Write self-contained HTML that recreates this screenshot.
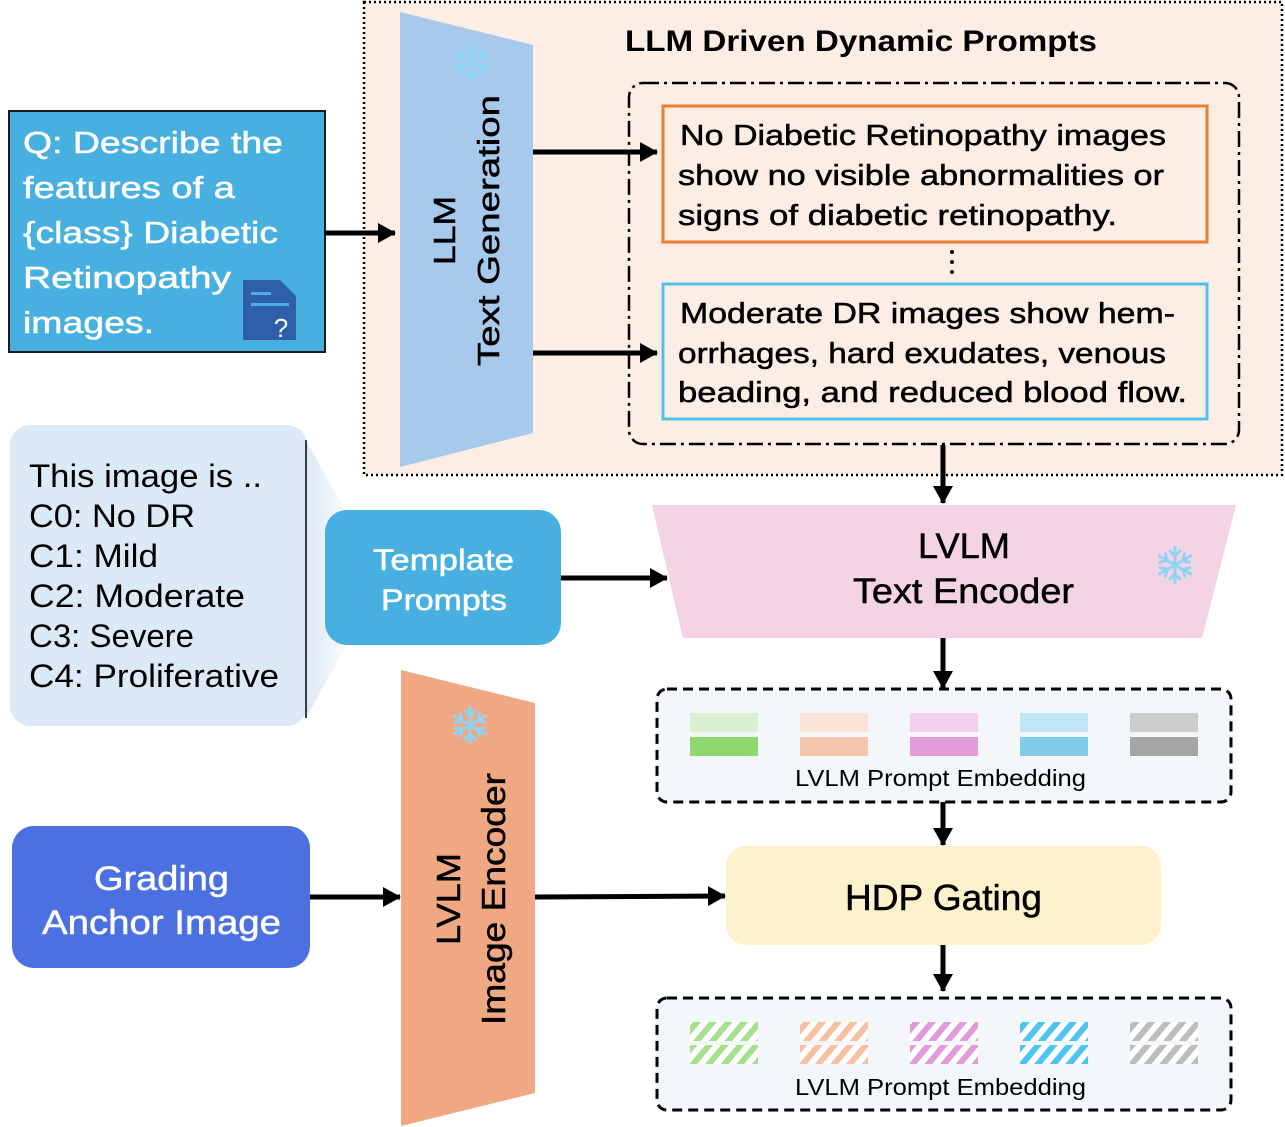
<!DOCTYPE html>
<html><head><meta charset="utf-8"><style>
body{margin:0;background:#fff}
svg{display:block;font-family:"Liberation Sans","DejaVu Sans",sans-serif}
.t{stroke:currentColor;stroke-width:0.5px}
</style></head><body>
<svg width="1285" height="1127" viewBox="0 0 1285 1127" xmlns="http://www.w3.org/2000/svg">
<defs>
<marker id="ah" markerWidth="18" markerHeight="20" refX="17" refY="10" orient="auto" markerUnits="userSpaceOnUse" viewBox="0 0 18 20"><path d="M0,0 L18,10 L0,20 z" fill="#000"/></marker>
<linearGradient id="cg" x1="0" x2="1"><stop offset="0" stop-color="#dce9f6"/><stop offset="1" stop-color="#dce9f6" stop-opacity="0.2"/></linearGradient>
<pattern id="hg" width="12" height="12" patternUnits="userSpaceOnUse" patternTransform="rotate(40)"><rect width="12" height="12" fill="#fff"/><rect width="6" height="12" fill="#a6e08f"/></pattern>
<pattern id="ho" width="12" height="12" patternUnits="userSpaceOnUse" patternTransform="rotate(40)"><rect width="12" height="12" fill="#fff"/><rect width="6" height="12" fill="#f5c0a3"/></pattern>
<pattern id="hp" width="12" height="12" patternUnits="userSpaceOnUse" patternTransform="rotate(40)"><rect width="12" height="12" fill="#fff"/><rect width="6" height="12" fill="#e29ad9"/></pattern>
<pattern id="hb" width="12" height="12" patternUnits="userSpaceOnUse" patternTransform="rotate(40)"><rect width="12" height="12" fill="#fff"/><rect width="6" height="12" fill="#50c4f0"/></pattern>
<pattern id="hx" width="12" height="12" patternUnits="userSpaceOnUse" patternTransform="rotate(40)"><rect width="12" height="12" fill="#fff"/><rect width="6" height="12" fill="#bdbdbd"/></pattern>
<g id="snow" stroke="#8fd3f5" stroke-width="3" stroke-linecap="round" fill="none">
<line x1="0" y1="-18" x2="0" y2="18"/><line x1="-15.6" y1="-9" x2="15.6" y2="9"/><line x1="-15.6" y1="9" x2="15.6" y2="-9"/>
<path d="M-5,-14 L0,-9 L5,-14 M-5,14 L0,9 L5,14"/>
<path d="M-14.6,-2.7 L-7.8,-4.5 L-9.6,-11.3 M14.6,2.7 L7.8,4.5 L9.6,11.3"/>
<path d="M-14.6,2.7 L-7.8,4.5 L-9.6,11.3 M14.6,-2.7 L7.8,-4.5 L9.6,-11.3"/>
</g>
</defs>

<rect x="364" y="2" width="918" height="473" fill="#fdeee5" stroke="#000" stroke-width="2.5" stroke-dasharray="2,3"/>
<text x="625" y="51" font-size="30" font-weight="bold" textLength="472" lengthAdjust="spacingAndGlyphs">LLM Driven Dynamic Prompts</text>
<rect x="629" y="83" width="610" height="361" rx="14" fill="none" stroke="#000" stroke-width="2.5" stroke-dasharray="16,5,3,5"/>
<rect x="663" y="106" width="544" height="136" fill="#fdeee5" stroke="#ed7d31" stroke-width="3"/>
<g font-size="29" fill="#000" class="t" color="#000">
<text x="680" y="145" textLength="486" lengthAdjust="spacingAndGlyphs">No Diabetic Retinopathy images</text>
<text x="678" y="185" textLength="486" lengthAdjust="spacingAndGlyphs">show no visible abnormalities or</text>
<text x="678" y="225" textLength="439" lengthAdjust="spacingAndGlyphs">signs of diabetic retinopathy.</text>
</g>
<g fill="#000"><circle cx="952" cy="252" r="2"/><circle cx="952" cy="262" r="2"/><circle cx="952" cy="272" r="2"/></g>
<rect x="663" y="284" width="544" height="135" fill="#fdeee5" stroke="#4dc3ea" stroke-width="3"/>
<g font-size="29" fill="#000" class="t" color="#000">
<text x="680" y="323" textLength="495" lengthAdjust="spacingAndGlyphs">Moderate DR images show hem-</text>
<text x="678" y="363" textLength="488" lengthAdjust="spacingAndGlyphs">orrhages, hard exudates, venous</text>
<text x="678" y="402" textLength="509" lengthAdjust="spacingAndGlyphs">beading, and reduced blood flow.</text>
</g>

<polygon points="400,12 533,45 533,433 400,467" fill="#a7c9eb"/>
<text transform="translate(455,265) rotate(-90)" font-size="31" class="t" color="#000" textLength="69" lengthAdjust="spacingAndGlyphs">LLM</text>
<text transform="translate(499,366) rotate(-90)" font-size="31" class="t" color="#000" textLength="271" lengthAdjust="spacingAndGlyphs">Text Generation</text>
<use href="#snow" x="472" y="62"/>

<line x1="533" y1="152" x2="657" y2="152" stroke="#000" stroke-width="5" marker-end="url(#ah)"/>
<line x1="533" y1="353" x2="657" y2="353" stroke="#000" stroke-width="5" marker-end="url(#ah)"/>

<rect x="9" y="111" width="316" height="241" fill="#47b0e0" stroke="#1a1a1a" stroke-width="2"/>
<g font-size="31" fill="#fff" class="t" color="#fff">
<text x="23" y="153" textLength="260" lengthAdjust="spacingAndGlyphs">Q: Describe the</text>
<text x="23" y="198" textLength="212" lengthAdjust="spacingAndGlyphs">features of a</text>
<text x="23" y="243" textLength="255" lengthAdjust="spacingAndGlyphs">{class} Diabetic</text>
<text x="23" y="288" textLength="208" lengthAdjust="spacingAndGlyphs">Retinopathy</text>
<text x="23" y="333" textLength="131" lengthAdjust="spacingAndGlyphs">images.</text>
</g>
<path d="M243,280 L280,280 L296,296 L296,340 L243,340 z" fill="#2f5fa8"/>
<rect x="251" y="292" width="20" height="3" fill="#47b0e0"/>
<rect x="251" y="303" width="38" height="3" fill="#47b0e0"/>
<text x="281" y="337" font-size="26" fill="#fff" text-anchor="middle">?</text>
<line x1="325" y1="233" x2="395" y2="233" stroke="#000" stroke-width="5" marker-end="url(#ah)"/>

<polygon points="306,440 345,510 345,648 306,718" fill="url(#cg)"/>
<rect x="10" y="425" width="297" height="301" rx="20" fill="#dce9f6"/>
<line x1="306" y1="440" x2="306" y2="718" stroke="#000" stroke-width="1.5"/>
<g font-size="32" fill="#000">
<text x="29" y="487" textLength="233" lengthAdjust="spacingAndGlyphs">This image is ..</text>
<text x="29" y="527" textLength="166" lengthAdjust="spacingAndGlyphs">C0: No DR</text>
<text x="29" y="567" textLength="129" lengthAdjust="spacingAndGlyphs">C1: Mild</text>
<text x="29" y="607" textLength="216" lengthAdjust="spacingAndGlyphs">C2: Moderate</text>
<text x="29" y="647" textLength="165" lengthAdjust="spacingAndGlyphs">C3: Severe</text>
<text x="29" y="687" textLength="250" lengthAdjust="spacingAndGlyphs">C4: Proliferative</text>
</g>

<rect x="325" y="510" width="236" height="135" rx="22" fill="#47b0e0"/>
<text x="373" y="570" font-size="30" fill="#fff" class="t" color="#fff" textLength="141" lengthAdjust="spacingAndGlyphs">Template</text>
<text x="381" y="610" font-size="30" fill="#fff" class="t" color="#fff" textLength="126" lengthAdjust="spacingAndGlyphs">Prompts</text>
<line x1="561" y1="578" x2="667" y2="578" stroke="#000" stroke-width="5" marker-end="url(#ah)"/>

<polygon points="652,505 1236,505 1202,638 683,638" fill="#f4d3e5"/>
<text x="918" y="558" font-size="35" class="t" color="#000" textLength="92" lengthAdjust="spacingAndGlyphs">LVLM</text>
<text x="853" y="603" font-size="35" class="t" color="#000" textLength="221" lengthAdjust="spacingAndGlyphs">Text Encoder</text>
<use href="#snow" x="1175" y="565"/>

<line x1="943" y1="445" x2="943" y2="503" stroke="#000" stroke-width="5" marker-end="url(#ah)"/>
<line x1="943" y1="638" x2="943" y2="688" stroke="#000" stroke-width="5" marker-end="url(#ah)"/>

<rect x="657" y="689" width="574" height="113" rx="10" fill="#f3f7fa" stroke="#000" stroke-width="3" stroke-dasharray="10,6"/>
<rect x="690" y="713" width="68" height="19" fill="#d9f1d1"/><rect x="690" y="737" width="68" height="19" fill="#8fd870"/>
<rect x="800" y="713" width="68" height="19" fill="#fce3d7"/><rect x="800" y="737" width="68" height="19" fill="#f5c6ab"/>
<rect x="910" y="713" width="68" height="19" fill="#f2cfec"/><rect x="910" y="737" width="68" height="19" fill="#e39ddb"/>
<rect x="1020" y="713" width="68" height="19" fill="#c2e5f5"/><rect x="1020" y="737" width="68" height="19" fill="#82cbeb"/>
<rect x="1130" y="713" width="68" height="19" fill="#cdcdcd"/><rect x="1130" y="737" width="68" height="19" fill="#a6a6a6"/>
<text x="795" y="786" font-size="23" textLength="291" lengthAdjust="spacingAndGlyphs">LVLM Prompt Embedding</text>

<line x1="943" y1="802" x2="943" y2="845" stroke="#000" stroke-width="5" marker-end="url(#ah)"/>

<rect x="726" y="846" width="435" height="99" rx="20" fill="#fef2cc"/>
<text x="845" y="910" font-size="36" class="t" color="#000" textLength="197" lengthAdjust="spacingAndGlyphs">HDP Gating</text>
<line x1="943" y1="945" x2="943" y2="991" stroke="#000" stroke-width="5" marker-end="url(#ah)"/>

<rect x="657" y="998" width="574" height="112" rx="10" fill="#f3f7fa" stroke="#000" stroke-width="3" stroke-dasharray="10,6"/>
<rect x="690" y="1022" width="68" height="19" fill="url(#hg)"/><rect x="690" y="1045" width="68" height="19" fill="url(#hg)"/>
<rect x="800" y="1022" width="68" height="19" fill="url(#ho)"/><rect x="800" y="1045" width="68" height="19" fill="url(#ho)"/>
<rect x="910" y="1022" width="68" height="19" fill="url(#hp)"/><rect x="910" y="1045" width="68" height="19" fill="url(#hp)"/>
<rect x="1020" y="1022" width="68" height="19" fill="url(#hb)"/><rect x="1020" y="1045" width="68" height="19" fill="url(#hb)"/>
<rect x="1130" y="1022" width="68" height="19" fill="url(#hx)"/><rect x="1130" y="1045" width="68" height="19" fill="url(#hx)"/>
<text x="795" y="1095" font-size="23" textLength="291" lengthAdjust="spacingAndGlyphs">LVLM Prompt Embedding</text>

<rect x="12" y="826" width="298" height="142" rx="22" fill="#4a70e2"/>
<text x="94" y="890" font-size="34" fill="#fff" class="t" color="#fff" textLength="135" lengthAdjust="spacingAndGlyphs">Grading</text>
<text x="42" y="934" font-size="34" fill="#fff" class="t" color="#fff" textLength="239" lengthAdjust="spacingAndGlyphs">Anchor Image</text>
<line x1="310" y1="897" x2="400" y2="897" stroke="#000" stroke-width="5" marker-end="url(#ah)"/>

<polygon points="401,670 535,703 535,1093 401,1126" fill="#f0a882"/>
<text transform="translate(460,945) rotate(-90)" font-size="33" class="t" color="#000" textLength="92" lengthAdjust="spacingAndGlyphs">LVLM</text>
<text transform="translate(505,1025) rotate(-90)" font-size="33" class="t" color="#000" textLength="252" lengthAdjust="spacingAndGlyphs">Image Encoder</text>
<use href="#snow" x="470" y="725"/>
<line x1="535" y1="897" x2="725" y2="896" stroke="#000" stroke-width="5" marker-end="url(#ah)"/>
</svg>
</body></html>
